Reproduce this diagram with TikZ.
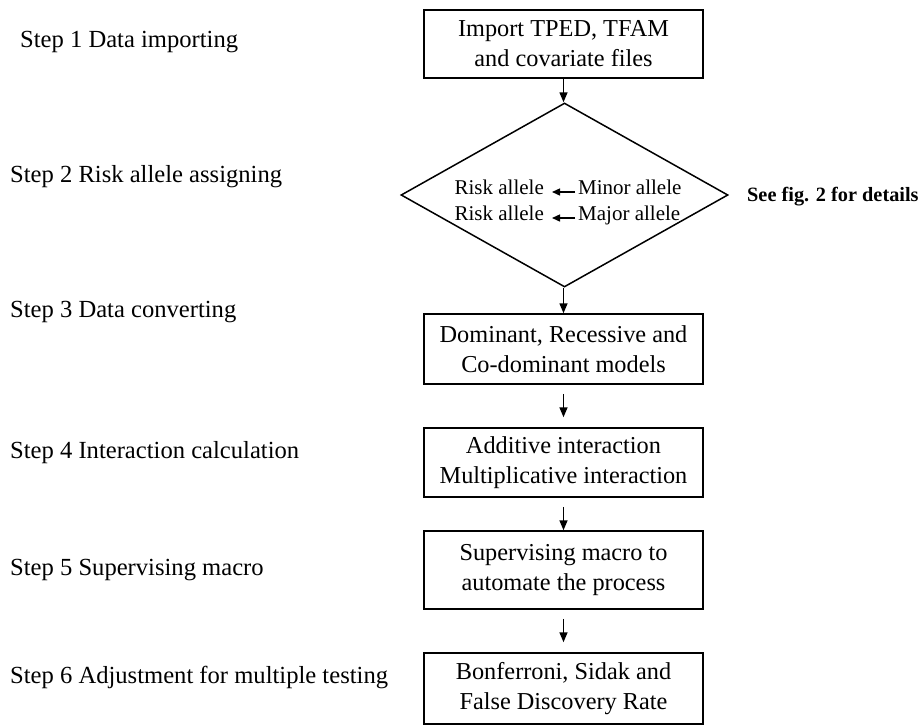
\documentclass[tikz,border=0pt]{standalone}
\usepackage{fontspec}
\setmainfont{Liberation Serif}
\usetikzlibrary{shapes.geometric,arrows.meta}
\begin{document}
\begin{tikzpicture}[x=1pt,y=-1pt,
  stepbox/.style={draw,line width=1.5pt,minimum width=279pt,inner sep=0pt,align=center,font=\fontsize{24.3}{30}\selectfont},
  steplabel/.style={anchor=west,inner sep=0pt,font=\fontsize{24.6}{30}\selectfont},
  allele/.style={inner sep=0pt,font=\fontsize{21}{26}\selectfont},
  flow/.style={line width=1.5pt,-{Triangle[length=10pt,width=8pt]}},
  inarrow/.style={line width=1.4pt,-{Triangle[length=8pt,width=7pt]},shorten <=3pt,shorten >=8pt},
]
\useasboundingbox (0,0) rectangle (918,726);

% step labels
\node[steplabel] (s1) at (20,42) {Step 1 Data importing};
\node[steplabel] (s2) at (10,177) {Step 2 Risk allele assigning};
\node[steplabel] (s3) at (10,312) {Step 3 Data converting};
\node[steplabel] (s4) at (10,453) {Step 4 Interaction calculation};
\node[steplabel] (s5) at (10,570) {Step 5 Supervising macro};
\node[steplabel] (s6) at (10,677) {Step 6 Adjustment for multiple testing};

% boxes
\node[stepbox,minimum height=68pt] (b1) at (563.5,44) {Import TPED, TFAM\\and covariate files};
\node[diamond,draw,line width=1.5pt,minimum width=327pt,minimum height=184pt,inner sep=0pt] (d) at (564.5,195) {};
\node[stepbox,minimum height=70pt] (b3) at (563.5,349) {Dominant, Recessive and\\Co-dominant models};
\node[stepbox,minimum height=69pt] (b4) at (563.5,462.5) {Additive interaction\\Multiplicative interaction};
\node[stepbox,minimum height=78pt] (b5) at (563.5,570) {Supervising macro to\\automate the process};
\node[stepbox,minimum height=71pt] (b6) at (563.5,688.5) {Bonferroni, Sidak and\\False Discovery Rate};

% diamond content
\node[allele,anchor=mid east] (r1) at (544,192) {Risk allele};
\node[allele,anchor=mid west] (m1) at (578,192) {Minor allele};
\node[allele,anchor=mid east] (r2) at (544,218) {Risk allele};
\node[allele,anchor=mid west] (m2) at (578,218) {Major allele};
\draw[inarrow] (m1.mid west) -- (r1.mid east);
\draw[inarrow] (m2.mid west) -- (r2.mid east);

\node[anchor=west,inner sep=0pt,font=\fontsize{20.3}{24}\selectfont\bfseries] (see) at (747,197) {See fig. 2 for details};

% connectors
\draw[flow] (b1.south) -- (b1.south |- d.north);
\draw[flow] (b3.north |- d.south) -- (b3.north);
\draw[flow,shorten <=9pt,shorten >=10pt] (b3.south) -- (b4.north);
\draw[flow,shorten <=9pt] (b4.south) -- (b5.north);
\draw[flow,shorten <=9pt,shorten >=10pt] (b5.south) -- (b6.north);
\end{tikzpicture}
\end{document}
